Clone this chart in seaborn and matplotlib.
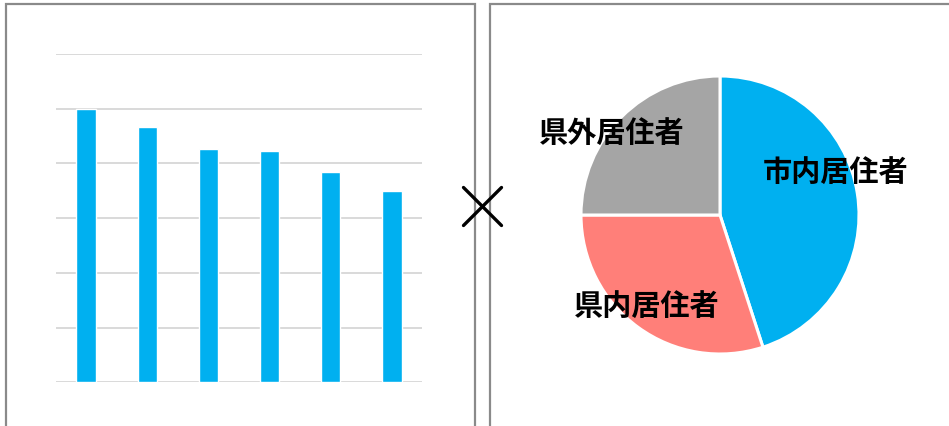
import seaborn as sns
import pandas as pd
import matplotlib.pyplot as plt
import matplotlib.patches as patches
from matplotlib.lines import Line2D

sns.set_style('white')
plt.rcParams['font.family'] = ['Noto Sans CJK JP', 'DejaVu Sans']

# bar panel (no labels in the picture)
bar_cats = ['1', '2', '3', '4', '5', '6']
bar_values = [50.0, 46.7, 42.7, 42.3, 38.4, 35.0]

# pie panel
pie_labels = ['市内居住者', '県内居住者', '県外居住者']
pie_values = [45, 30, 25]
pie_colors = ['#00B0F0', '#FF7F79', '#A5A5A5']

W, H = 949, 427
fig = plt.figure(figsize=(W / 100, H / 100), dpi=100)


def fx(px):
    return px / W


def fy(py):
    return 1 - py / H


# panel frames
border = '#8a8a8a'
fig.patches.append(patches.Rectangle((fx(5.5), -0.1), fx(475) - fx(5.5), fy(5) + 0.1,
                                     transform=fig.transFigure, fill=False,
                                     edgecolor=border, linewidth=1.6))
fig.patches.append(patches.Rectangle((fx(490), -0.1), 0.6, fy(5) + 0.1,
                                     transform=fig.transFigure, fill=False,
                                     edgecolor=border, linewidth=1.6))

# bar chart
ax1 = fig.add_axes([fx(55.7), fy(383.3), fx(422.3) - fx(55.7), fy(55) - fy(383.3)])
df = pd.DataFrame({'cat': bar_cats, 'value': bar_values})
sns.barplot(data=df, x='cat', y='value', color='#00B0F0', saturation=1,
            width=0.32, ax=ax1, zorder=3)
ax1.set_xlim(-0.5, 5.5)
ax1.set_ylim(0, 60)
ax1.set_yticks(range(0, 61, 10))
ax1.yaxis.grid(True, color='#d9d9d9', linewidth=1.4)
ax1.set_axisbelow(True)
ax1.tick_params(left=False, bottom=False, labelleft=False, labelbottom=False)
ax1.set(xlabel='', ylabel='')
sns.despine(ax=ax1, left=True, bottom=True)

# pie chart
r = 139
ax2 = fig.add_axes([fx(720 - r), fy(216 + r), fx(2 * r), (2 * r) / H])
ax2.pie(pie_values, colors=pie_colors, startangle=90, counterclock=False,
        wedgeprops={'edgecolor': 'white', 'linewidth': 2.2})
ax2.set_xlim(-1, 1)
ax2.set_ylim(-1, 1)
label_pos = [(0.83, 0.32), (-0.53, -0.65), (-0.78, 0.595)]
for lab, (x, y) in zip(pie_labels, label_pos):
    ax2.text(x, y, lab, ha='center', va='center', fontsize=21,
             fontweight='bold', color='black')

# the "x" between panels
fig.lines.append(Line2D([fx(463.5), fx(501.5)], [fy(188.5), fy(226.5)],
                        transform=fig.transFigure, color='black', linewidth=2.4))
fig.lines.append(Line2D([fx(463.5), fx(501.5)], [fy(226.5), fy(188.5)],
                        transform=fig.transFigure, color='black', linewidth=2.4))

plt.savefig('out.png', dpi=100)
